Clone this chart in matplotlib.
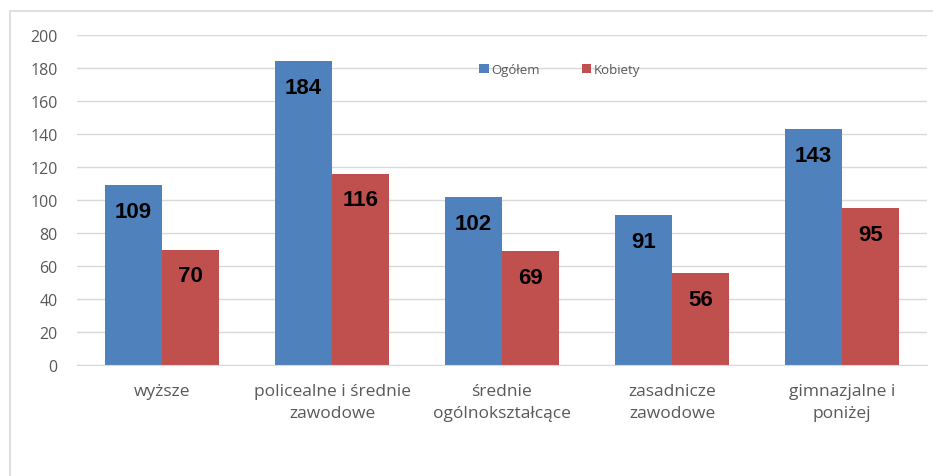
import numpy as np
import matplotlib.pyplot as plt
from matplotlib.patches import Rectangle

categories = ["wyższe", "policealne i średnie\nzawodowe", "średnie\nogólnokształcące",
              "zasadnicze\nzawodowe", "gimnazjalne i\nponiżej"]
ogolem = [109, 184, 102, 91, 143]
kobiety = [70, 116, 69, 56, 95]

plt.rcParams['font.family'] = ['Open Sans', 'DejaVu Sans']

fig = plt.figure(figsize=(9.33, 4.77), dpi=100)
# chart frame
fig.patches.append(Rectangle((10 / 933, -0.01), 1.0, 1 - 12 / 477 + 0.01, transform=fig.transFigure,
                             fill=False, edgecolor="#d9d9d9", linewidth=1.2))
ax = fig.add_axes([77 / 933, 1 - 366 / 477, 850 / 933, 330 / 477])

x = np.arange(len(categories))
w = 0.335
b1 = ax.bar(x - w / 2, ogolem, w, color="#4F81BD", label="Ogółem", zorder=2)
b2 = ax.bar(x + w / 2, kobiety, w, color="#C0504D", label="Kobiety", zorder=2)

for bars, vals in ((b1, ogolem), (b2, kobiety)):
    for r, v in zip(bars, vals):
        ax.text(r.get_x() + r.get_width() / 2, v - 16, str(v), ha="center", va="center",
                fontsize=16, fontweight="bold", color="black",
                family=['Liberation Sans Narrow', 'Liberation Sans', 'DejaVu Sans'], zorder=3)

ax.set_xlim(-0.5, len(categories) - 0.5)
ax.set_ylim(0, 200)
ax.set_yticks(range(0, 201, 20))
ax.yaxis.grid(True, color="#d9d9d9", linewidth=1, zorder=0)
ax.set_axisbelow(True)
for s in ["top", "right", "left"]:
    ax.spines[s].set_visible(False)
ax.spines["bottom"].set_color("#d9d9d9")
ax.tick_params(axis="both", length=0, colors="#595959")
ax.tick_params(axis="y", labelsize=11.5, pad=14)
ax.set_xticks(x)
ax.set_xticklabels(categories, fontsize=12.5, linespacing=1.5)
ax.tick_params(axis="x", pad=13)

ax.legend(loc="center", bbox_to_anchor=(0.568, 0.895), ncol=2, frameon=False,
          fontsize=9.5, handlelength=0.7, handleheight=0.7, handletextpad=0.2,
          columnspacing=3.2, labelcolor="#595959")

fig.savefig("out.png", dpi=100)
